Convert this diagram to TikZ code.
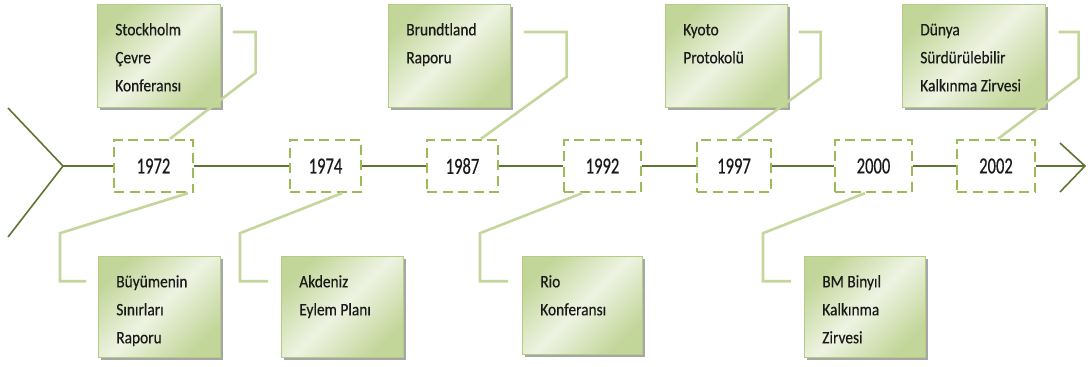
\documentclass[tikz,border=0pt]{standalone}
\usepackage{fontspec}
\setmainfont{Carlito}
\newfontfamily\labfont{Carlito}[FakeStretch=0.88, FakeBold=0.4]
\newfontfamily\yearfont{Carlito}[FakeStretch=0.72, FakeBold=0.4]
\usetikzlibrary{shadows}
\definecolor{dashgreen}{HTML}{9BBB59}
\definecolor{linkgreen}{HTML}{C3D69B}
\definecolor{boxgreen}{HTML}{C2D699}
\definecolor{boxlight}{HTML}{EEF3E2}
\definecolor{boxedge}{HTML}{B5CC85}
\definecolor{axisgreen}{HTML}{5E7532}
\definecolor{txt}{HTML}{1A1A1A}
\newcommand\evtext[3]{\parbox[c][#2][t]{#1}{\labfont\fontsize{17.5}{28}\selectfont\raggedright\leftskip=18pt\rule{0pt}{31pt}#3}}
\newcommand\yr[1]{{\yearfont\fontsize{23}{23}\selectfont #1}}
\tikzset{
  evbox/.style={draw=boxedge, line width=0.6pt, inner sep=0pt, anchor=north west, text=txt,
    top color=boxgreen, bottom color=boxgreen, middle color=boxlight, shading angle=45,
    general shadow={fill=black!35, shadow xshift=3pt, shadow yshift=-3pt}},
  yearbox/.style={draw=dashgreen, line width=2.4pt, dash pattern=on 10pt off 5.5pt, fill=white,
    minimum height=52pt, inner sep=0pt, text=txt},
  link/.style={draw=linkgreen, line width=2.6pt},
  axisline/.style={draw=axisgreen, line width=1.2pt},
  chevron/.style={draw=axisgreen, line width=1.6pt}
}
\begin{document}
\begin{tikzpicture}[x=1pt, y=-1pt]
\useasboundingbox (0,0) rectangle (1088,367);
% year boxes
\node[yearbox, minimum width=79pt] (y1972) at (153.5,166) {\yr{1972}};
\node[yearbox, minimum width=71pt] (y1974) at (325.5,166) {\yr{1974}};
\node[yearbox, minimum width=71pt] (y1987) at (462.5,166) {\yr{1987}};
\node[yearbox, minimum width=77pt] (y1992) at (602.5,166) {\yr{1992}};
\node[yearbox, minimum width=74pt] (y1997) at (734,166) {\yr{1997}};
\node[yearbox, minimum width=77pt] (y2000) at (873.5,166) {\yr{2000}};
\node[yearbox, minimum width=78pt] (y2002) at (996,166) {\yr{2002}};
% chevrons
\coordinate (lv) at (63,166);
\coordinate (lt) at (8,108);
\coordinate (lb) at (8,237);
\coordinate (rv) at (1085,166);
\coordinate (rt) at (1060,143);
\coordinate (rb) at (1060,192);
\draw[chevron] (lt) -- (lv) -- (lb);
\draw[chevron] (rt) -- (rv) -- (rb);
% timeline
\draw[axisline] (lv) -- (y1972.west);
\draw[axisline] (y1972.east) -- (y1974.west);
\draw[axisline] (y1974.east) -- (y1987.west);
\draw[axisline] (y1987.east) -- (y1992.west);
\draw[axisline] (y1992.east) -- (y1997.west);
\draw[axisline] (y1997.east) -- (y2000.west);
\draw[axisline] (y2000.east) -- (y2002.west);
\draw[axisline] (y2002.east) -- (rv);
% event boxes
\node[evbox] (e1) at (97,4) {\evtext{123pt}{103pt}{Stockholm\\Çevre\\Konferansı}};
\node[evbox] (e3) at (388,4) {\evtext{122pt}{103pt}{Brundtland\\Raporu}};
\node[evbox] (e5) at (665,4) {\evtext{122pt}{103pt}{Kyoto\\Protokolü}};
\node[evbox] (e7) at (902,4) {\evtext{143pt}{103pt}{Dünya\\Sürdürülebilir\\Kalkınma Zirvesi}};
\node[evbox] (e2) at (98,256) {\evtext{122pt}{101pt}{Büyümenin\\Sınırları\\Raporu}};
\node[evbox] (e4) at (281,256) {\evtext{122pt}{101pt}{Akdeniz\\Eylem Planı}};
\node[evbox] (e6) at (522,256) {\evtext{120pt}{98pt}{Rio\\Konferansı}};
\node[evbox] (e8) at (804,256) {\evtext{121pt}{101pt}{BM Binyıl\\Kalkınma\\Zirvesi}};
% upper connectors
\draw[link] ([shift={(12,28)}]e1.north east) -| ++(23,41) -- ([xshift=16.5pt]y1972.north);
\draw[link] ([shift={(13,28)}]e3.north east) -| ++(43,45) -- ([xshift=18.5pt]y1987.north);
\draw[link] ([shift={(11,28)}]e5.north east) -| ++(22,46) -- ([xshift=3pt]y1997.north);
\draw[link] ([shift={(13,28)}]e7.north east) -| ++(20,46) -- ([xshift=2pt]y2002.north);
% lower connectors
\draw[link] ([xshift=34.5pt]y1972.south) -- ++(-128,40) |- ++(26,48);
\draw[link] ([xshift=16.5pt]y1974.south) -- ++(-102,40) |- ++(28,48);
\draw[link] ([xshift=-20.5pt]y1992.south) -- ++(-102,40) |- ++(28,48);
\draw[link] ([xshift=-8.5pt]y2000.south) -- ++(-102,40) |- ++(28,48);
\end{tikzpicture}
\end{document}
